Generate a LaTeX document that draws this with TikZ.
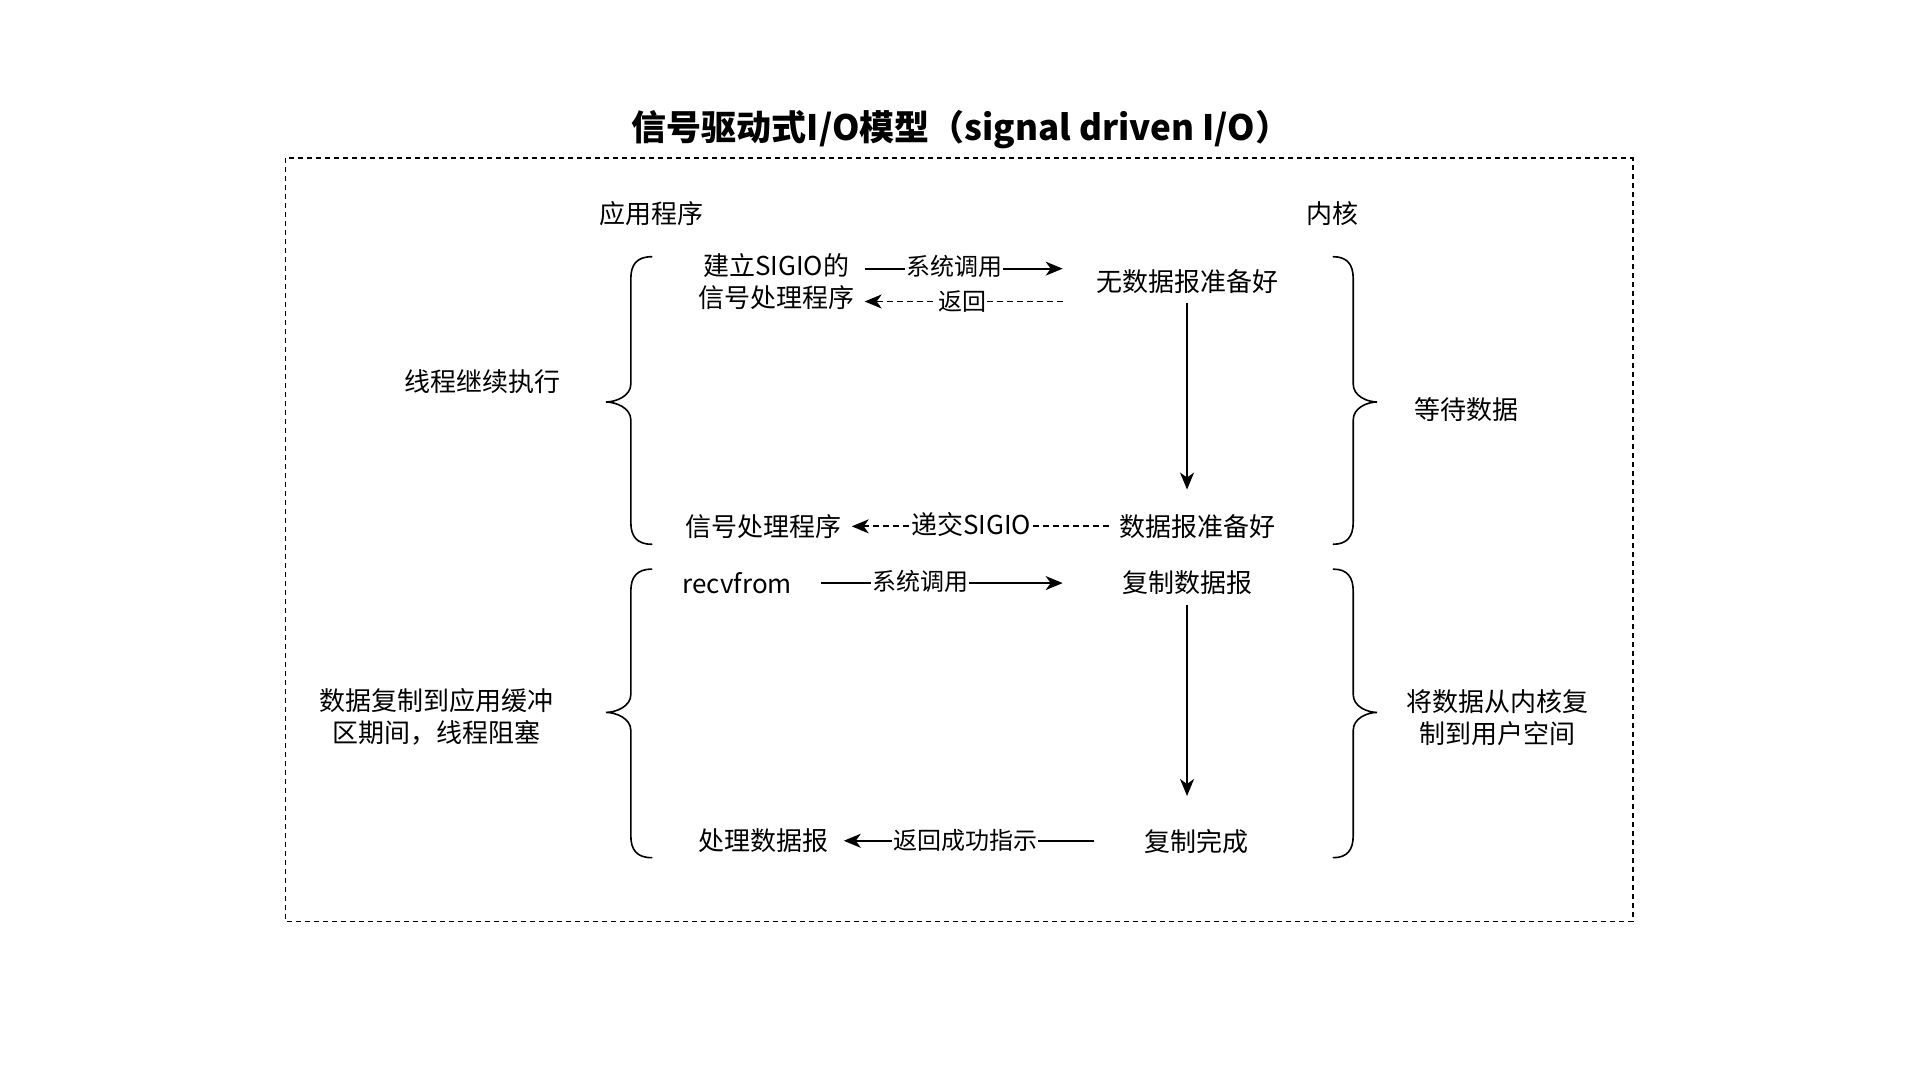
\documentclass[tikz,border=0pt]{standalone}
\usepackage{fontspec}
\setmainfont{Noto Sans CJK SC}
\usetikzlibrary{arrows.meta}
\tikzset{
  txt/.style={inner sep=0pt, font=\fontsize{26}{32}\selectfont, align=center},
  lbl/.style={inner sep=1pt, fill=white, font=\fontsize{24}{28}\selectfont},
  flow/.style={line width=1.8pt, -{Stealth[length=17pt,width=14pt,inset=5pt]}},
  ret/.style={flow, dash pattern=on 6pt off 4pt},
  brc/.style={line width=1.6pt, line cap=round},
}
\newcommand\BraceL[6]{% xend, xv, xtip, ytop, ymid, ybot
  \draw[brc] (#1,#4) .. controls ({#2+6},#4) and (#2,{#4+8}) .. (#2,{#4+22})
    -- (#2,{#5-18}) .. controls (#2,{#5-6}) and ({#3+10},#5) .. (#3,#5)
    .. controls ({#3+10},#5) and (#2,{#5+6}) .. (#2,{#5+18})
    -- (#2,{#6-22}) .. controls (#2,{#6-8}) and ({#2+6},#6) .. (#1,#6);}
\newcommand\BraceR[6]{%
  \draw[brc] (#1,#4) .. controls ({#2-6},#4) and (#2,{#4+8}) .. (#2,{#4+22})
    -- (#2,{#5-18}) .. controls (#2,{#5-6}) and ({#3-10},#5) .. (#3,#5)
    .. controls ({#3-10},#5) and (#2,{#5+6}) .. (#2,{#5+18})
    -- (#2,{#6-22}) .. controls (#2,{#6-8}) and ({#2-6},#6) .. (#1,#6);}
\begin{document}
\begin{tikzpicture}[x=0.995pt,y=-0.995pt]
\useasboundingbox (0,0) rectangle (1929.65,1085.43);
% title
\node[inner sep=0pt, font=\fontsize{35}{40}\selectfont\bfseries] (title) at (966,130) {信号驱动式I/O模型（signal driven I/O）};
% frame
\draw[line width=1.6pt, dash pattern=on 5pt off 4pt] (287,159) rectangle (1641,926);
% headers
\node[txt] (app) at (655,215) {应用程序};
\node[txt] (kern) at (1339,215) {内核};
% braces
\BraceL{655}{634}{609}{258}{404}{547}
\BraceL{655}{634}{609}{572}{716}{862}
\BraceR{1340}{1360}{1384}{258}{404}{547}
\BraceR{1340}{1360}{1384}{572}{716}{862}
% side texts
\node[txt] (cont) at (485,384) {线程继续执行};
\node[txt] (wait) at (1474,412) {等待数据};
\node[txt] (block) at (439,720) {数据复制到应用缓冲\\区期间，线程阻塞};
\node[txt] (copyk) at (1505,721) {将数据从内核复\\制到用户空间};
% app column
\node[txt] (setup) at (780,283) {建立SIGIO的\\信号处理程序};
\node[txt] (handler) at (767,529) {信号处理程序};
\node[txt] (recv) at (741,586) {recvfrom};
\node[txt] (proc) at (767,845) {处理数据报};
% kernel column
\node[txt] (nodata) at (1193,283) {无数据报准备好};
\node[txt] (ready) at (1204,529) {数据报准备好};
\node[txt] (copying) at (1193,586) {复制数据报};
\node[txt] (done) at (1202,846) {复制完成};
% connector end points
\coordinate (c1a) at (869,270);  \coordinate (c1b) at (1068,270);
\coordinate (c2a) at (1068,303); \coordinate (c2b) at (869,303);
\coordinate (c3a) at (1115,529); \coordinate (c3b) at (856,529);
\coordinate (c4a) at (825,586);  \coordinate (c4b) at (1068,586);
\coordinate (c5a) at (1099,845); \coordinate (c5b) at (848,845);
\coordinate (v1a) at (1193,305); \coordinate (v1b) at (1193,492);
\coordinate (v2a) at (1193,608); \coordinate (v2b) at (1193,800);
% arrows
\draw[flow] (c1a) -- (c1b);
\node[lbl] (l1) at (959,268) {系统调用};
\draw[ret] (c2a) -- (c2b);
\node[lbl] (l2) at (967,303) {返回};
\draw[ret] (c3a) -- (c3b);
\node[lbl, font=\fontsize{26}{30}\selectfont] (l3) at (976,527) {递交SIGIO};
\draw[flow] (c4a) -- (c4b);
\node[lbl] (l4) at (925,584) {系统调用};
\draw[flow] (c5a) -- (c5b);
\node[lbl] (l5) at (970,845) {返回成功指示};
\draw[flow] (v1a) -- (v1b);
\draw[flow] (v2a) -- (v2b);
\end{tikzpicture}
\end{document}
